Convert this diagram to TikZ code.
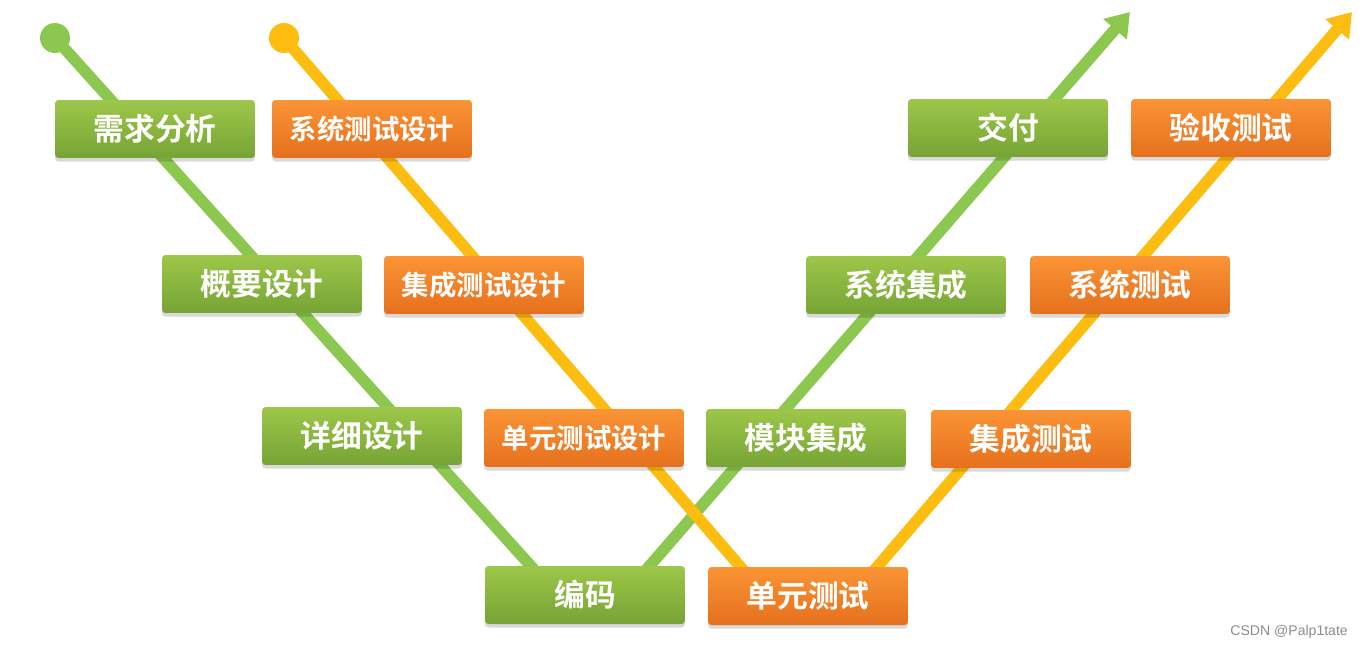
\documentclass[tikz,border=0pt]{standalone}
\usepackage{fontspec}
\newfontfamily\cjk{Noto Sans CJK SC Bold}
\setsansfont{Liberation Sans}
\usetikzlibrary{arrows.meta,shadows}
\definecolor{lgreen}{HTML}{8CC850}
\definecolor{lyellow}{HTML}{FDBD10}
\definecolor{gtop}{HTML}{9DC749}
\definecolor{gbot}{HTML}{76A435}
\definecolor{otop}{HTML}{FA9435}
\definecolor{obot}{HTML}{E6701D}
\tikzset{
  boxbase/.style={rectangle, rounded corners=2pt, minimum width=4cm, minimum height=1.16cm,
    text=white, inner sep=0pt,
    drop shadow={shadow xshift=0pt, shadow yshift=-2pt, opacity=0.15, fill=black}},
  gbox/.style={boxbase, top color=gtop, bottom color=gbot, font=\cjk\fontsize{17.5}{20}\selectfont},
  obox/.style={boxbase, top color=otop, bottom color=obot, font=\cjk\fontsize{17.5}{20}\selectfont},
  small/.style={font=\cjk\fontsize{15.6}{18}\selectfont},
  gline/.style={draw=lgreen, line width=0.23cm},
  yline/.style={draw=lyellow, line width=0.23cm},
  gdot/.style={circle, fill=lgreen, minimum size=0.6cm, inner sep=0pt},
  ydot/.style={circle, fill=lyellow, minimum size=0.6cm, inner sep=0pt},
  tipg/.style={-{Triangle[length=13pt,width=17pt]}},
}
\begin{document}
\begin{tikzpicture}[x=0.02cm,y=-0.02cm]
\useasboundingbox (0,0) rectangle (1366,649);
% line anchor points
\coordinate (gs) at (55,38);
\coordinate (gbl) at (575,615);
\coordinate (gbr) at (607,615);
\coordinate (gt) at (1130,12);
\coordinate (ys) at (284,38);
\coordinate (ybl) at (782,615);
\coordinate (ybr) at (836,615);
\coordinate (yt) at (1352,12);
% green V
\draw[gline] (gs) -- (gbl);
\draw[gline, tipg] (gbr) -- (gt);
\node[gdot] (gcirc) at (gs) {};
% yellow V
\draw[yline] (ys) -- (ybl);
\draw[yline, tipg] (ybr) -- (yt);
\node[ydot] (ycirc) at (ys) {};
% boxes
\node[gbox] (xq) at (155,129) {需求分析};
\node[obox, small] (xtsj) at (372,129) {系统测试设计};
\node[gbox] (gy) at (262,284) {概要设计};
\node[obox, small] (jcsj) at (484,285) {集成测试设计};
\node[gbox] (xx) at (362,436) {详细设计};
\node[obox, small] (dysj) at (584,438) {单元测试设计};
\node[gbox] (bm) at (585,595) {编码};
\node[obox] (dy) at (808,596) {单元测试};
\node[gbox] (mk) at (806,438) {模块集成};
\node[obox] (jc) at (1031,439) {集成测试};
\node[gbox] (xj) at (906,285) {系统集成};
\node[obox] (xc) at (1130,285) {系统测试};
\node[gbox] (jf) at (1008,128) {交付};
\node[obox] (ys2) at (1231,128) {验收测试};
% watermark
\node[text=black!45, font=\sffamily\fontsize{8}{9}\selectfont, anchor=east] (wm) at (1354,632) {CSDN @Palp1tate};
\end{tikzpicture}
\end{document}
